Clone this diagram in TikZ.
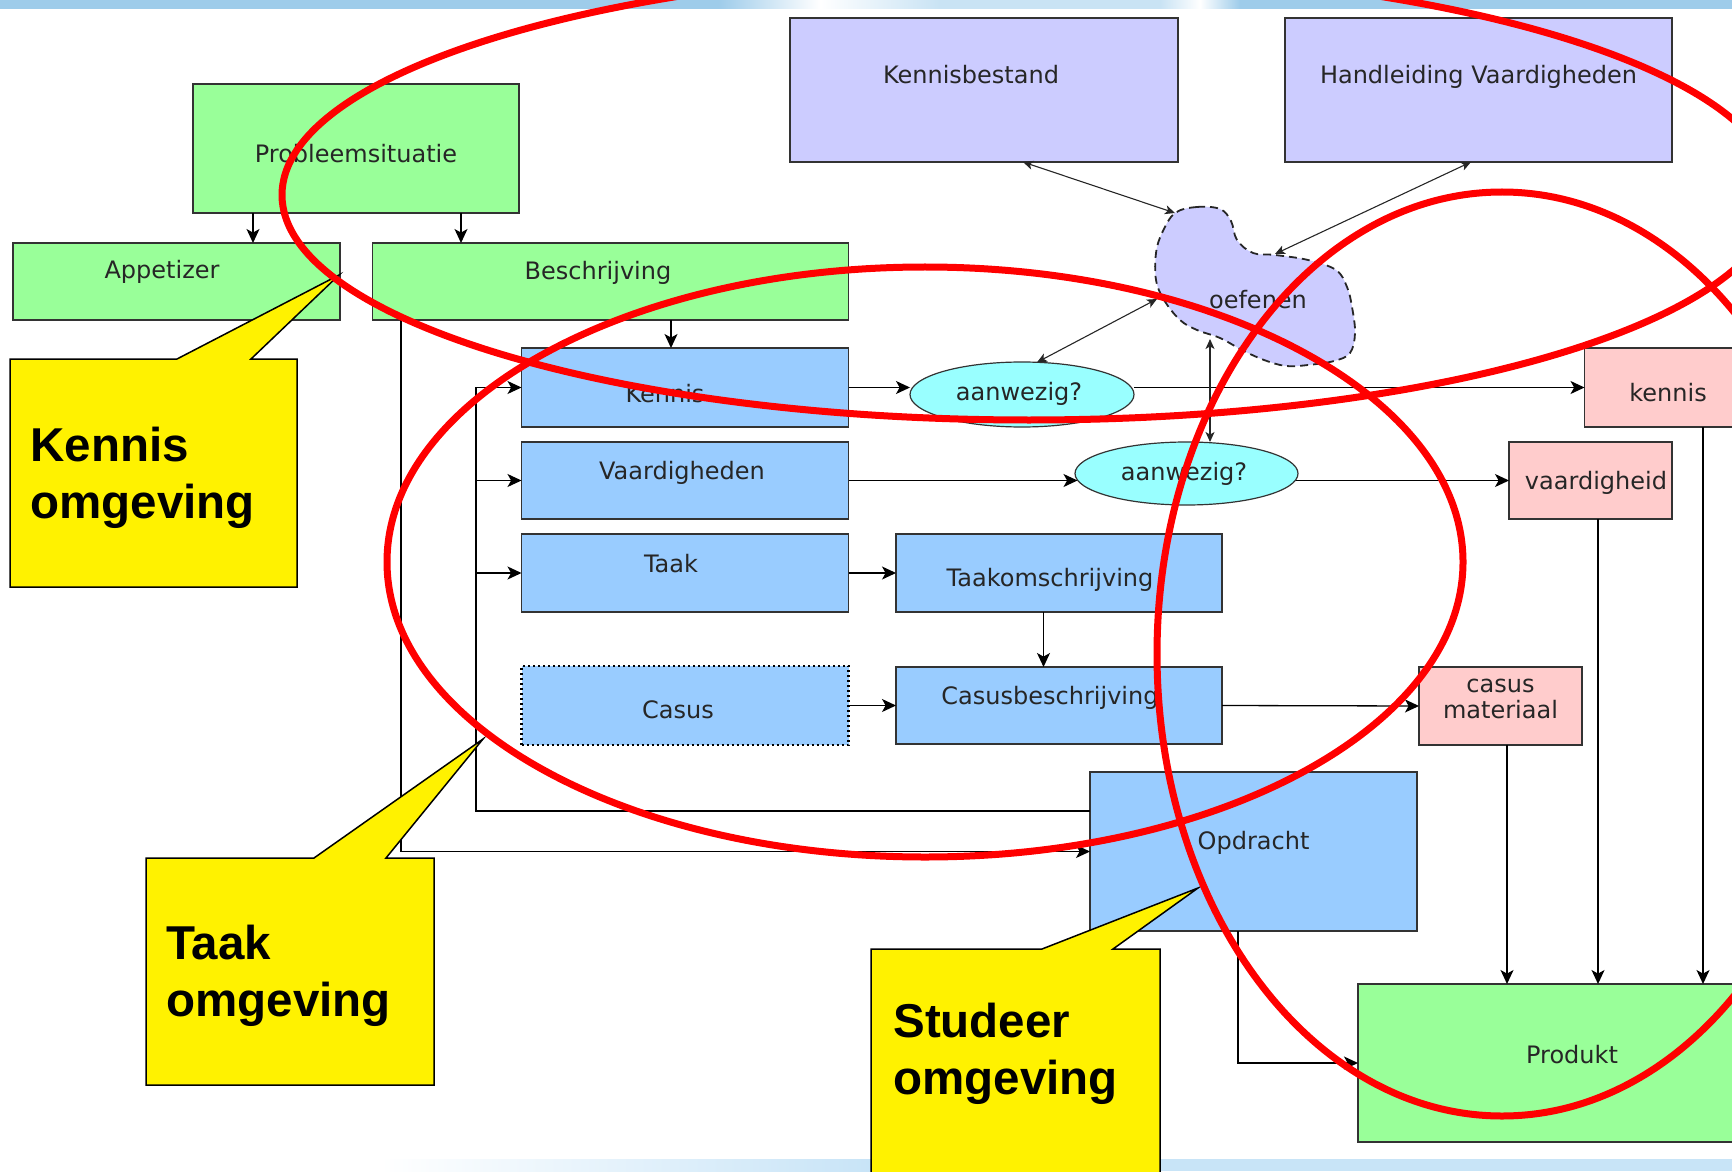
\documentclass[tikz,border=0pt]{standalone}
\usepackage{fontspec}
\setmainfont{DejaVu Sans}
\newfontfamily\calloutfont{Liberation Sans}
\usetikzlibrary{arrows.meta,calc,shapes.geometric}
\definecolor{boxgreen}{HTML}{99FF99}
\definecolor{boxlav}{HTML}{CCCCFF}
\definecolor{boxblue}{HTML}{99CCFF}
\definecolor{boxcyan}{HTML}{99FFFF}
\definecolor{boxpink}{HTML}{FFCCCC}
\definecolor{bandblue}{HTML}{9ECCEA}
\definecolor{bandmid}{HTML}{C9E3F4}
\definecolor{bandlight}{HTML}{C8E4F7}
\tikzset{
  bl/.code={\pgfmathsetmacro\blvH{8+(#1)/2}\pgfmathsetmacro\blvD{8-(#1)/2}%
    \edef\blvTmp{\noexpand\pgfkeysalso{/tikz/text height=\blvH pt,/tikz/text depth=\blvD pt}}\blvTmp},
  hs/.style={execute at begin node={\hspace*{#1pt}}},
  boxbase/.style={draw=black!80, line width=0.7pt, inner sep=0pt, outer sep=0pt,
    font=\fontsize{12}{13}\selectfont, text=black!85},
  gbox/.style={boxbase, fill=boxgreen},
  lbox/.style={boxbase, fill=boxlav},
  bbox/.style={boxbase, fill=boxblue},
  pbox/.style={boxbase, fill=boxpink},
  cbox/.style={boxbase, ellipse, fill=boxcyan, line width=0.6pt},
  conn/.style={draw=black, line width=0.65pt, -{Stealth[length=7pt,width=6.5pt,inset=1.8pt]}},
  dconn/.style={draw=black!85, line width=0.55pt,
    {Stealth[length=5pt,width=4.5pt,inset=1.3pt]}-{Stealth[length=5pt,width=4.5pt,inset=1.3pt]}},
  callout/.style={fill=yellow, draw=black, line width=0.75pt},
  callouttext/.style={anchor=north west, inner sep=0pt, align=left,
    font=\calloutfont\bfseries\fontsize{23.75}{28.5}\selectfont},
  redring/.style={draw=red, line width=3.5pt}
}
\begin{document}
\begin{tikzpicture}[x=0.5pt, y=-0.5pt]
\useasboundingbox (0,0) rectangle (1732,1171);
\clip (0,0) rectangle (1732,1171);
% background bands
\fill[bandblue] (0,0) rectangle (718,9);
\shade[left color=bandblue, right color=white] (718,0) rectangle (820,9);
\shade[left color=white, right color=bandmid] (820,0) rectangle (940,9);
\fill[bandmid] (940,0) rectangle (1160,9);
\shade[left color=bandmid, right color=white] (1160,0) rectangle (1200,9);
\shade[left color=white, right color=bandblue] (1200,0) rectangle (1240,9);
\fill[bandblue] (1240,0) rectangle (1732,9);
\shade[left color=white, right color=bandlight] (380,1159) rectangle (870,1171);
\fill[bandlight] (870,1159) rectangle (1732,1171);

% boxes
\node[gbox, bl=14.5, minimum width=163pt, minimum height=64.5pt] (prob) at (356,148.5) {Probleemsituatie};
\node[gbox, bl=-2.5, hs=-14.5, minimum width=163.5pt, minimum height=38.5pt] (app) at (176.5,281.5) {Appetizer};
\node[gbox, bl=-1.5, hs=-12.5, minimum width=238pt, minimum height=38.5pt] (besch) at (610.5,281.5) {Beschrijving};
\node[lbox, bl=-6, hs=-13, minimum width=194pt, minimum height=72pt] (kb) at (984,90) {Kennisbestand};
\node[lbox, bl=-6, minimum width=193.5pt, minimum height=72pt] (hv) at (1478.5,90) {Handleiding Vaardigheden};
\node[bbox, bl=14.5, hs=-20, minimum width=163.5pt, minimum height=39.5pt] (kennis) at (685,387.5) {Kennis};
\node[bbox, bl=-1.5, hs=-3, minimum width=163.5pt, minimum height=38.5pt] (vaard) at (685,480.5) {Vaardigheden};
\node[bbox, bl=-1, hs=-14, minimum width=163.5pt, minimum height=39pt] (taak) at (685,573) {Taak};
\node[bbox, draw=black, dash pattern=on 1pt off 1.5pt, line width=1.3pt, bl=12.5, hs=-7, minimum width=163.5pt, minimum height=39.5pt] (casus) at (685,705.5) {Casus};
\node[bbox, bl=13, hs=-9, minimum width=163pt, minimum height=39pt] (tko) at (1059,573) {Taakomschrijving};
\node[bbox, bl=-1.5, hs=-9, minimum width=163pt, minimum height=38.5pt] (cbs) at (1059,705.5) {Casusbeschrijving};
\node[bbox, bl=-2.5, minimum width=163.5pt, minimum height=79.5pt] (opd) at (1253.5,851.5) {Opdracht};
\node[cbox, bl=5.5, hs=-3, minimum width=112pt, minimum height=32.5pt] (aw1) at (1022,394.5) {aanwezig?};
\node[cbox, bl=6.5, hs=-2.5, minimum width=111.5pt, minimum height=31.5pt] (aw2) at (1186.5,473.5) {aanwezig?};
\node[pbox, bl=13.5, hs=2, minimum width=81.5pt, minimum height=39.5pt] (kp) at (1666,387.5) {kennis};
\node[pbox, bl=8.5, hs=5.5, minimum width=81.5pt, minimum height=38.5pt] (vp) at (1590.5,480.5) {vaardigheid};
\node[pbox, text height=7pt, text depth=21pt, minimum width=81.5pt, minimum height=39pt] (cm) at (1500.5,706)
  {\vtop{\hbox{\makebox[0pt]{casus}}\hbox{\makebox[0pt]{materiaal}}}};
\node[gbox, bl=0, minimum width=214pt, minimum height=79pt] (prod) at (1572,1063) {Produkt};

% cloud
\coordinate (oefA) at (1175,213);
\coordinate (oefB) at (1275,254);
\coordinate (oefC) at (1157,299);
\coordinate (oefD) at (1210,339);
\draw[fill=boxlav, draw=black!85, line width=0.9pt, dash pattern=on 4pt off 2.5pt]
  plot[smooth cycle, tension=0.6] coordinates {(1175,213) (1197,207) (1220,209) (1231,221) (1237,240) (1253,253) (1275,255) (1308,260) (1336,270) (1347,287) (1352,307) (1355,333) (1350,353) (1334,361) (1308,365) (1286,366) (1264,360) (1242,350) (1220,338) (1197,330) (1180,320) (1164,300) (1156,280) (1156,253) (1162,233)};
\node[anchor=base, inner sep=0pt, font=\fontsize{12}{13}\selectfont, text=black!85] (oef) at (1258,308) {oefenen};

% connectors
\draw[conn] ($(prob.south west)+(60,0)$) -- ($(app.north west)+(240,0)$);
\draw[conn] ($(prob.south west)+(268,0)$) -- ($(besch.north west)+(88.5,0)$);
\draw[conn] ($(besch.south west)+(298.5,0)$) -- ($(kennis.north west)+(149.5,0)$);
\draw[conn] ($(besch.south west)+(28.5,0)$) |- (opd.west);
\draw[conn] ($(opd.north west)+(0,39)$) -| ($(kennis.west)+(-45.5,0)$) -- (kennis.west);
\draw[conn] ($(vaard.west)+(-45.5,0)$) -- (vaard.west);
\draw[conn] ($(taak.west)+(-45.5,0)$) -- (taak.west);
\draw[conn] (kennis.east) -- (kennis.east -| aw1.west);
\draw[conn] (kennis.east -| aw1.east) -- (kp.west);
\draw[conn] (vaard.east) -- ($(vaard.east -| aw2.west)+(2.5,0)$);
\draw[conn] ($(vaard.east -| aw2.east)+(-2.5,0)$) -- (vp.west);
\draw[conn] (taak.east) -- (tko.west);
\draw[conn] ($(tko.south west)+(147.5,0)$) -- ($(cbs.north west)+(147.5,0)$);
\draw[conn] (casus.east) -- (cbs.west);
\draw[conn] (cbs.east) -- (cm.west);
\draw[conn] ($(cm.south west)+(88,0)$) -- ($(prod.north west)+(149,0)$);
\draw[conn] ($(vp.south west)+(89,0)$) -- ($(prod.north west)+(240,0)$);
\draw[conn] ($(kp.south west)+(118.5,0)$) -- ($(prod.north west)+(345,0)$);
\draw[conn] ($(opd.south west)+(148,0)$) |- (prod.west);
\draw[dconn] ($(kb.south west)+(233,0)$) -- (oefA);
\draw[dconn] ($(hv.south west)+(186,0)$) -- (oefB);
\draw[dconn] (oefC) -- (aw1.65);
\draw[dconn] (oefD) -- (aw2.north -| oefD);

% callouts
\draw[callout] (10,359) -- (177,359) -- (339,275) -- (251,359) -- (297,359) -- (297,587) -- (10,587) -- cycle;
\node[callouttext] (ckennis) at (30,427) {Kennis\\omgeving};
\draw[callout] (146,858) -- (314,858) -- (483,739) -- (386,858) -- (434,858) -- (434,1085) -- (146,1085) -- cycle;
\node[callouttext] (ctaak) at (166,925) {Taak\\omgeving};
\draw[callout] (871,949) -- (1042,949) -- (1198,888) -- (1113,949) -- (1160,949) -- (1160,1195) -- (871,1195) -- cycle;
\node[callouttext] (cstudeer) at (893,1003) {Studeer\\omgeving};

% red rings
\draw[redring] (1029,195) ellipse [x radius=373.5pt, y radius=112.5pt];
\draw[redring] (925,562) ellipse [x radius=269pt, y radius=147.5pt];
\draw[redring] (1502,654) ellipse [x radius=172.5pt, y radius=231pt];
\end{tikzpicture}
\end{document}
